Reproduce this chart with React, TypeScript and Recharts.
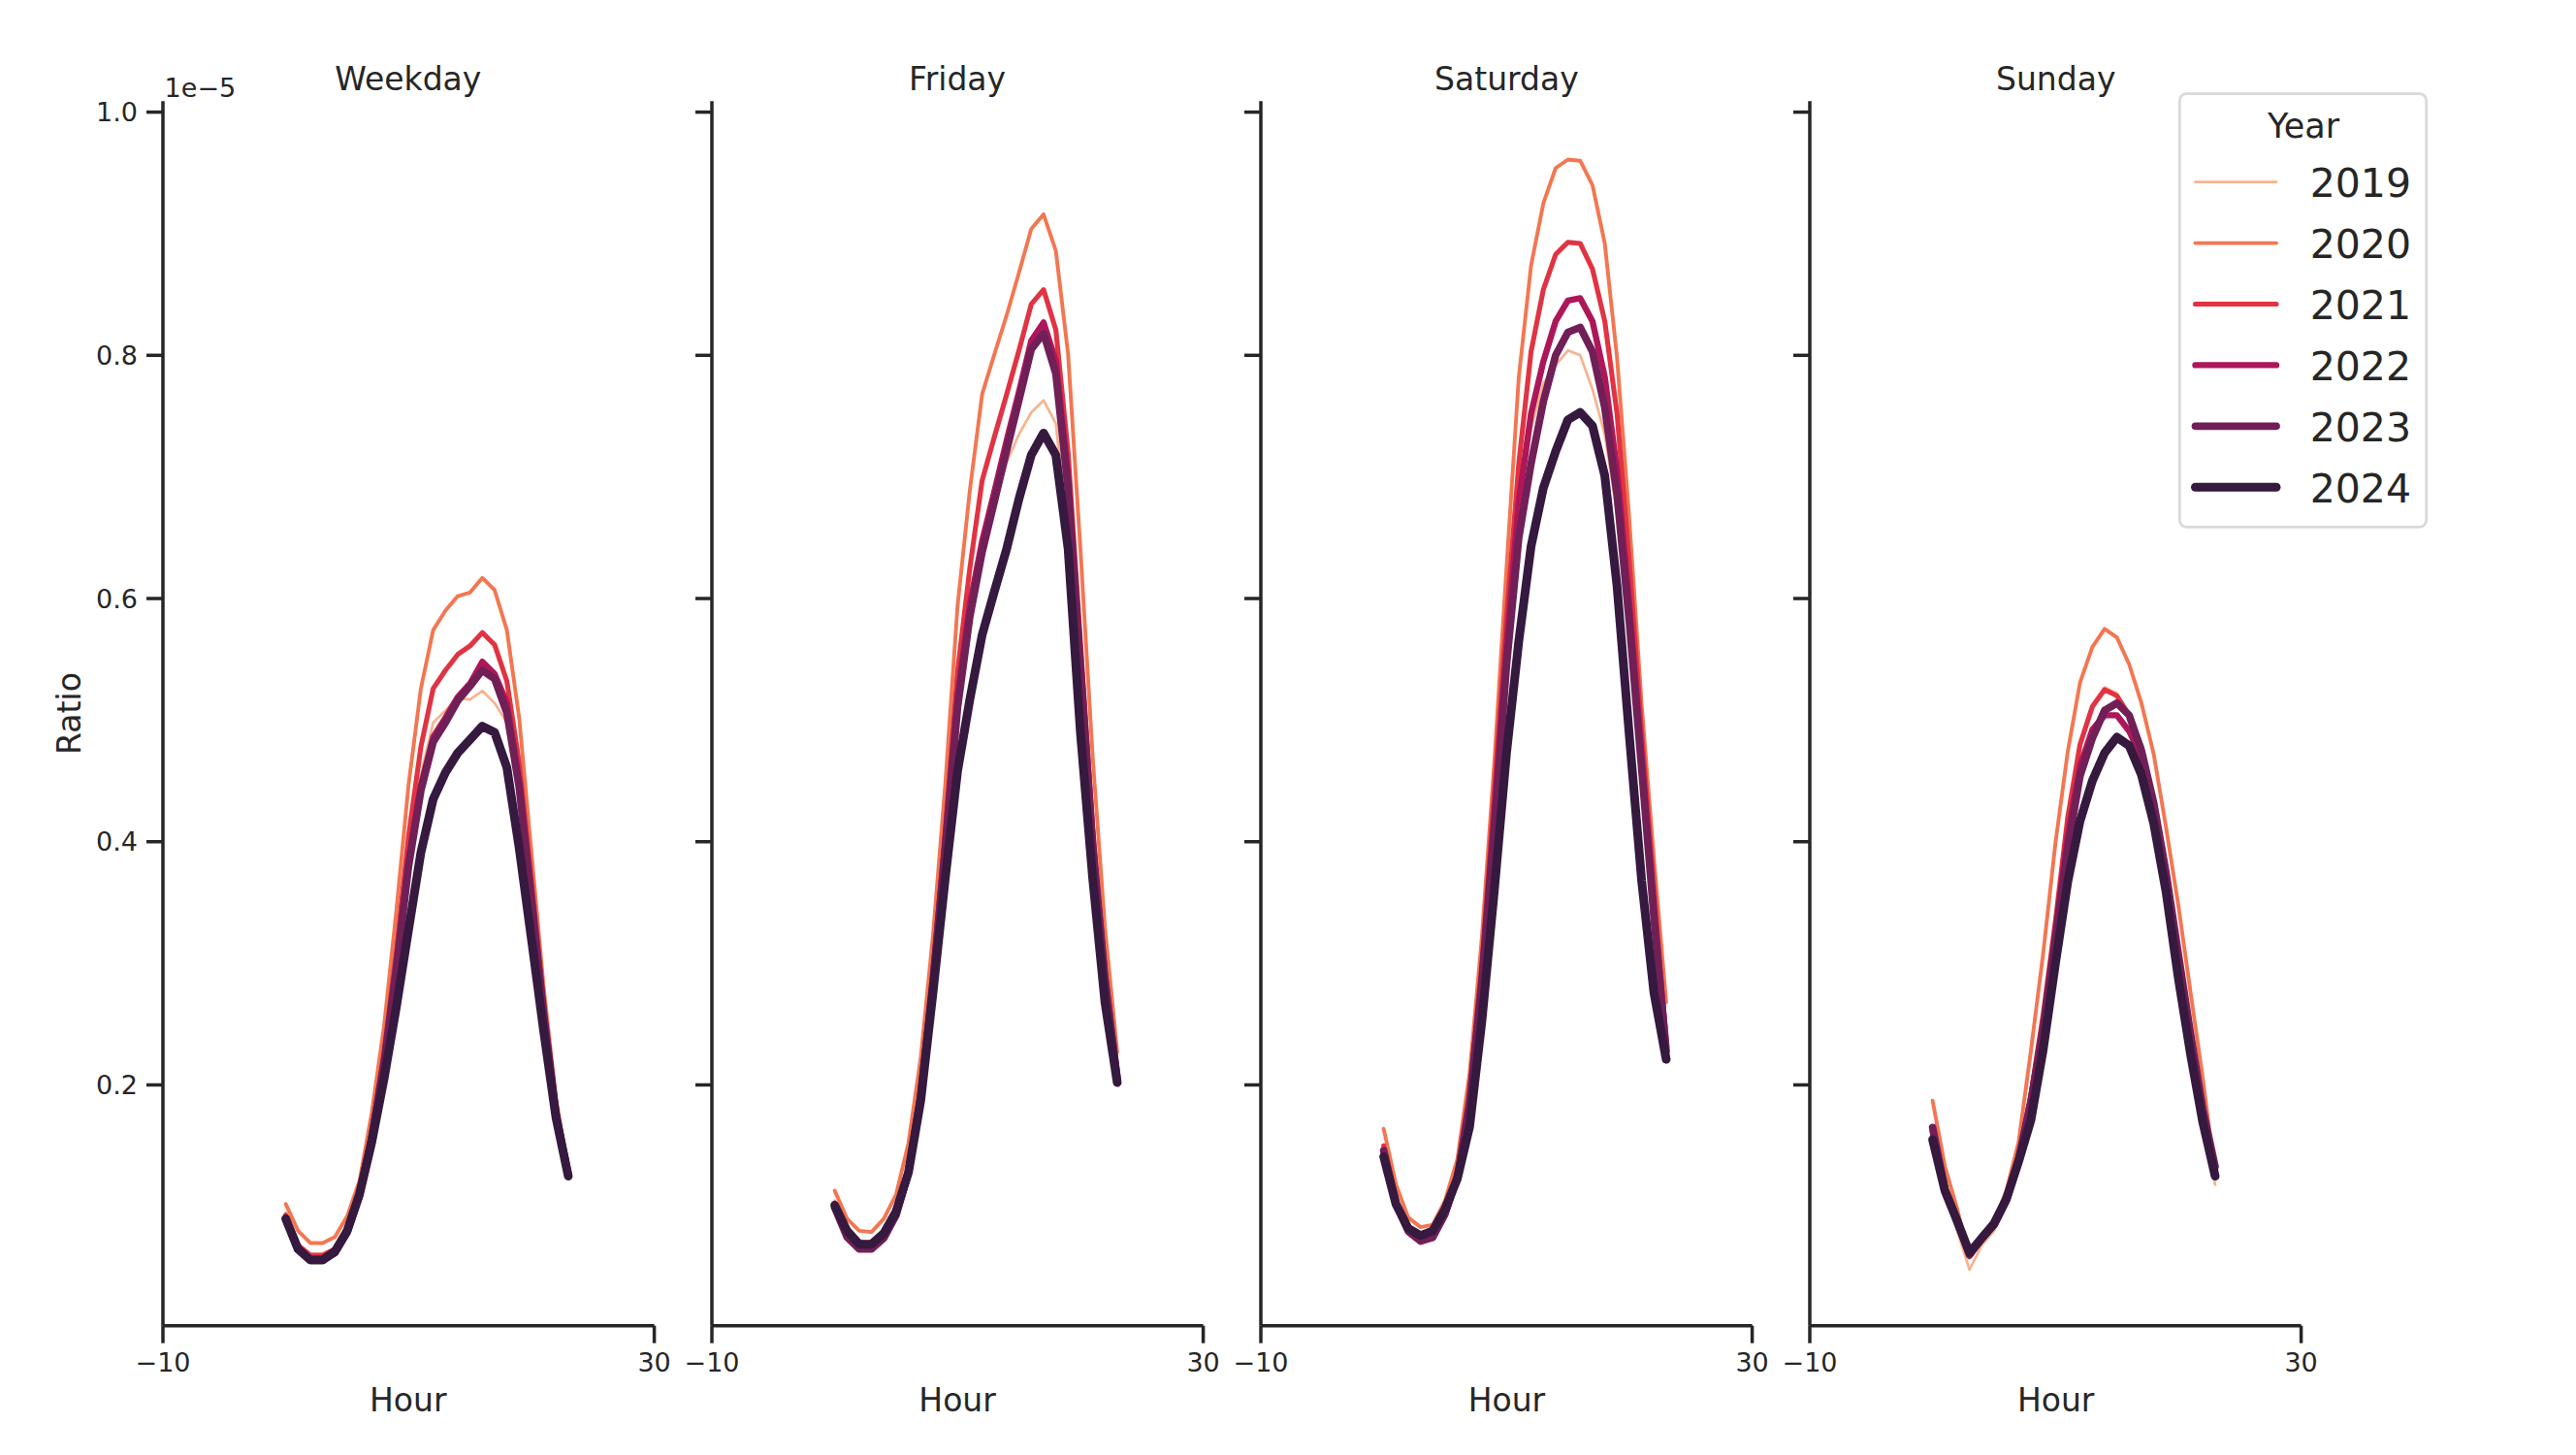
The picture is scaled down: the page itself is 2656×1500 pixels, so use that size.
import { LineChart, Line, XAxis, YAxis } from 'recharts';

// hours of the day on the x axis, ratio values are in units of 1e-5
const HOURS = [0, 1, 2, 3, 4, 5, 6, 7, 8, 9, 10, 11, 12, 13, 14, 15, 16, 17, 18, 19, 20, 21, 22, 23];
const YEARS = ['2019', '2020', '2021', '2022', '2023', '2024'];
const COLORS = ['#f6b48f', '#f37651', '#e13342', '#ad1759', '#701f57', '#35193e'];
const WIDTHS = [2.7, 3.9, 5.1, 6.4, 7.7, 9.0];
const PANELS = ['Weekday', 'Friday', 'Saturday', 'Sunday'];
const Y_TICKS = [0.2, 0.4, 0.6, 0.8, 1.0];
const X_TICKS = [-10, 30];

// one row per year, 2019 .. 2024
const weekdayRatio = [
  [0.095, 0.070, 0.061, 0.061, 0.066, 0.083, 0.114, 0.163, 0.226, 0.305, 0.395, 0.455, 0.498, 0.508, 0.518, 0.517, 0.524, 0.514, 0.498, 0.450, 0.360, 0.265, 0.183, 0.128],
  [0.102, 0.080, 0.070, 0.070, 0.075, 0.092, 0.121, 0.177, 0.248, 0.343, 0.447, 0.526, 0.574, 0.590, 0.602, 0.605, 0.617, 0.607, 0.574, 0.502, 0.391, 0.280, 0.189, 0.129],
  [0.093, 0.068, 0.060, 0.060, 0.065, 0.082, 0.112, 0.162, 0.226, 0.310, 0.405, 0.478, 0.526, 0.541, 0.554, 0.561, 0.572, 0.562, 0.532, 0.465, 0.368, 0.268, 0.182, 0.127],
  [0.090, 0.066, 0.057, 0.057, 0.062, 0.079, 0.109, 0.158, 0.220, 0.298, 0.385, 0.446, 0.486, 0.502, 0.519, 0.530, 0.548, 0.538, 0.514, 0.450, 0.357, 0.260, 0.178, 0.127],
  [0.089, 0.065, 0.056, 0.056, 0.062, 0.079, 0.109, 0.157, 0.218, 0.295, 0.380, 0.442, 0.482, 0.498, 0.516, 0.528, 0.541, 0.534, 0.506, 0.445, 0.352, 0.257, 0.176, 0.126],
  [0.090, 0.065, 0.056, 0.056, 0.063, 0.080, 0.110, 0.153, 0.205, 0.264, 0.328, 0.391, 0.435, 0.457, 0.473, 0.484, 0.495, 0.490, 0.461, 0.395, 0.320, 0.244, 0.173, 0.125],
];

const fridayRatio = [
  [0.105, 0.082, 0.072, 0.071, 0.080, 0.098, 0.133, 0.197, 0.292, 0.398, 0.505, 0.585, 0.637, 0.680, 0.712, 0.735, 0.753, 0.763, 0.744, 0.650, 0.520, 0.390, 0.285, 0.210],
  [0.113, 0.090, 0.080, 0.079, 0.090, 0.110, 0.152, 0.222, 0.323, 0.447, 0.594, 0.689, 0.768, 0.801, 0.833, 0.868, 0.904, 0.916, 0.886, 0.801, 0.641, 0.470, 0.329, 0.227],
  [0.103, 0.078, 0.068, 0.068, 0.077, 0.096, 0.132, 0.197, 0.293, 0.410, 0.540, 0.625, 0.697, 0.733, 0.768, 0.804, 0.842, 0.854, 0.821, 0.720, 0.565, 0.412, 0.295, 0.212],
  [0.100, 0.075, 0.065, 0.065, 0.074, 0.093, 0.129, 0.193, 0.288, 0.400, 0.520, 0.595, 0.647, 0.688, 0.730, 0.770, 0.812, 0.827, 0.795, 0.700, 0.550, 0.400, 0.290, 0.207],
  [0.099, 0.075, 0.065, 0.065, 0.074, 0.093, 0.128, 0.191, 0.285, 0.395, 0.510, 0.585, 0.638, 0.680, 0.722, 0.763, 0.805, 0.818, 0.785, 0.690, 0.545, 0.397, 0.287, 0.205],
  [0.101, 0.080, 0.069, 0.069, 0.078, 0.096, 0.128, 0.187, 0.276, 0.370, 0.458, 0.517, 0.570, 0.606, 0.641, 0.682, 0.718, 0.736, 0.718, 0.641, 0.490, 0.370, 0.268, 0.202],
];

const saturdayRatio = [
  [0.150, 0.106, 0.082, 0.074, 0.077, 0.096, 0.128, 0.193, 0.295, 0.425, 0.560, 0.670, 0.740, 0.777, 0.792, 0.804, 0.800, 0.772, 0.735, 0.670, 0.570, 0.455, 0.335, 0.230],
  [0.164, 0.118, 0.091, 0.083, 0.085, 0.105, 0.139, 0.210, 0.322, 0.464, 0.625, 0.782, 0.874, 0.925, 0.954, 0.961, 0.960, 0.940, 0.892, 0.798, 0.665, 0.513, 0.386, 0.268],
  [0.150, 0.105, 0.082, 0.074, 0.077, 0.096, 0.128, 0.195, 0.300, 0.440, 0.585, 0.711, 0.803, 0.854, 0.883, 0.893, 0.892, 0.871, 0.828, 0.752, 0.630, 0.490, 0.362, 0.235],
  [0.146, 0.102, 0.079, 0.071, 0.074, 0.093, 0.124, 0.187, 0.290, 0.420, 0.560, 0.680, 0.752, 0.795, 0.828, 0.845, 0.847, 0.828, 0.782, 0.705, 0.595, 0.470, 0.345, 0.232],
  [0.146, 0.102, 0.080, 0.072, 0.075, 0.094, 0.124, 0.185, 0.285, 0.410, 0.545, 0.650, 0.711, 0.762, 0.800, 0.819, 0.823, 0.803, 0.757, 0.685, 0.580, 0.460, 0.338, 0.228],
  [0.141, 0.102, 0.082, 0.076, 0.080, 0.098, 0.123, 0.166, 0.253, 0.359, 0.473, 0.565, 0.643, 0.691, 0.721, 0.747, 0.753, 0.742, 0.701, 0.610, 0.487, 0.368, 0.276, 0.221],
];

const sundayRatio = [
  [0.160, 0.112, 0.080, 0.048, 0.068, 0.080, 0.102, 0.140, 0.190, 0.255, 0.330, 0.420, 0.482, 0.512, 0.527, 0.522, 0.505, 0.478, 0.430, 0.370, 0.300, 0.235, 0.172, 0.118],
  [0.187, 0.133, 0.098, 0.058, 0.077, 0.087, 0.113, 0.153, 0.228, 0.308, 0.399, 0.474, 0.531, 0.560, 0.575, 0.568, 0.546, 0.514, 0.472, 0.412, 0.348, 0.276, 0.205, 0.126],
  [0.160, 0.113, 0.088, 0.060, 0.074, 0.085, 0.106, 0.142, 0.192, 0.258, 0.335, 0.420, 0.480, 0.511, 0.525, 0.520, 0.504, 0.478, 0.430, 0.370, 0.300, 0.236, 0.175, 0.128],
  [0.162, 0.113, 0.088, 0.060, 0.074, 0.085, 0.105, 0.140, 0.188, 0.250, 0.325, 0.405, 0.462, 0.492, 0.504, 0.504, 0.491, 0.470, 0.428, 0.370, 0.302, 0.238, 0.178, 0.130],
  [0.165, 0.114, 0.089, 0.060, 0.074, 0.085, 0.105, 0.139, 0.186, 0.246, 0.320, 0.395, 0.454, 0.485, 0.508, 0.514, 0.504, 0.475, 0.432, 0.375, 0.308, 0.242, 0.180, 0.133],
  [0.155, 0.113, 0.088, 0.062, 0.074, 0.086, 0.106, 0.137, 0.171, 0.229, 0.300, 0.367, 0.417, 0.450, 0.473, 0.486, 0.479, 0.455, 0.415, 0.359, 0.288, 0.225, 0.169, 0.125],
];

const PANEL_RATIOS = [weekdayRatio, fridayRatio, saturdayRatio, sundayRatio];

// layout, in page pixels
const PLOT_LEFTS = [167.5, 733.8, 1300.1, 1866.4];
const PLOT_W = 506.6;
const PLOT_TOP = 104.3;
const PLOT_BOTTOM = 1366.7;
const AXIS_W = 90;
const RIGHT_PAD = 40;
const XAXIS_H = 100;
const INK = '#262626';
const FONT = 'DejaVu Sans';

const buildRows = (ratios: number[][]) =>
  HOURS.map((hour, i) => {
    const row: Record<string, number> = { hour };
    YEARS.forEach((year, k) => {
      row[`y${year}`] = ratios[k][i];
    });
    return row;
  });

const NoTick = () => <g />;

function Panel({ index }: { index: number }) {
  const rows = buildRows(PANEL_RATIOS[index]);
  const width = AXIS_W + PLOT_W + RIGHT_PAD;
  return (
    <div style={{ position: 'absolute', left: PLOT_LEFTS[index] - AXIS_W, top: 0 }}>
      <LineChart
        width={width}
        height={1500}
        data={rows}
        margin={{ top: PLOT_TOP, right: RIGHT_PAD, bottom: 1500 - PLOT_BOTTOM - XAXIS_H, left: 0 }}
      >
        <XAxis
          dataKey="hour"
          type="number"
          domain={[-10, 30]}
          ticks={X_TICKS}
          interval={0}
          height={XAXIS_H}
          tickSize={18}
          tickMargin={10}
          tickFormatter={(v: number) => String(v).replace('-', '\u2212')}
          axisLine={{ stroke: INK, strokeWidth: 3.5 }}
          tickLine={{ stroke: INK, strokeWidth: 3.5 }}
          tick={{ fontSize: 27, fill: INK, fontFamily: FONT }}
        />
        <YAxis
          type="number"
          width={AXIS_W}
          domain={[0.002, 1.009]}
          allowDataOverflow
          ticks={Y_TICKS}
          interval={0}
          tickSize={17}
          tickMargin={9}
          tickFormatter={(v: number) => v.toFixed(1)}
          axisLine={{ stroke: INK, strokeWidth: 3.5 }}
          tickLine={{ stroke: INK, strokeWidth: 3.5 }}
          tick={index === 0 ? { fontSize: 27, fill: INK, fontFamily: FONT } : NoTick}
        />
        {YEARS.map((year, k) => (
          <Line
            key={year}
            type="linear"
            dataKey={`y${year}`}
            stroke={COLORS[k]}
            strokeWidth={WIDTHS[k]}
            strokeLinecap="round"
            strokeLinejoin="round"
            dot={false}
            activeDot={false}
            isAnimationActive={false}
          />
        ))}
      </LineChart>
    </div>
  );
}

export default function App() {
  return (
    <div
      style={{
        position: 'absolute',
        left: 0,
        top: 0,
        width: 2656,
        height: 1500,
        background: '#ffffff',
        overflow: 'hidden',
        fontFamily: FONT,
      }}
    >
      {PANELS.map((name, i) => (
        <Panel key={name} index={i} />
      ))}

      <svg
        width={2656}
        height={1500}
        style={{ position: 'absolute', left: 0, top: 0, pointerEvents: 'none' }}
        fontFamily={FONT}
        fill={INK}
      >
        {PANELS.map((name, i) => {
          const cx = PLOT_LEFTS[i] + PLOT_W / 2;
          return (
            <g key={name}>
              <text x={cx} y={93.3} fontSize={33} textAnchor="middle">{name}</text>
              <text x={cx} y={1455} fontSize={33} textAnchor="middle">Hour</text>
            </g>
          );
        })}
        <text x={169.6} y={100} fontSize={27}>1e{'\u2212'}5</text>
        <text
          x={83}
          y={(PLOT_TOP + PLOT_BOTTOM) / 2}
          fontSize={33}
          textAnchor="middle"
          transform={`rotate(-90, 83, ${(PLOT_TOP + PLOT_BOTTOM) / 2})`}
        >
          Ratio
        </text>

        <rect x={2247.3} y={96.7} width={254.4} height={446.6} rx={7} fill="#ffffff" fillOpacity={0.8} stroke="#d9d9d9" strokeWidth={2.7} />
        <text x={2375} y={141.7} fontSize={35} textAnchor="middle">Year</text>
        {YEARS.map((year, k) => (
          <g key={year}>
            <line
              x1={2263.5}
              x2={2347}
              y1={187.7 + 62.9 * k}
              y2={187.7 + 62.9 * k}
              stroke={COLORS[k]}
              strokeWidth={WIDTHS[k]}
              strokeLinecap="round"
            />
            <text x={2381.7} y={203.3 + 62.9 * k} fontSize={41}>{year}</text>
          </g>
        ))}
      </svg>
    </div>
  );
}
